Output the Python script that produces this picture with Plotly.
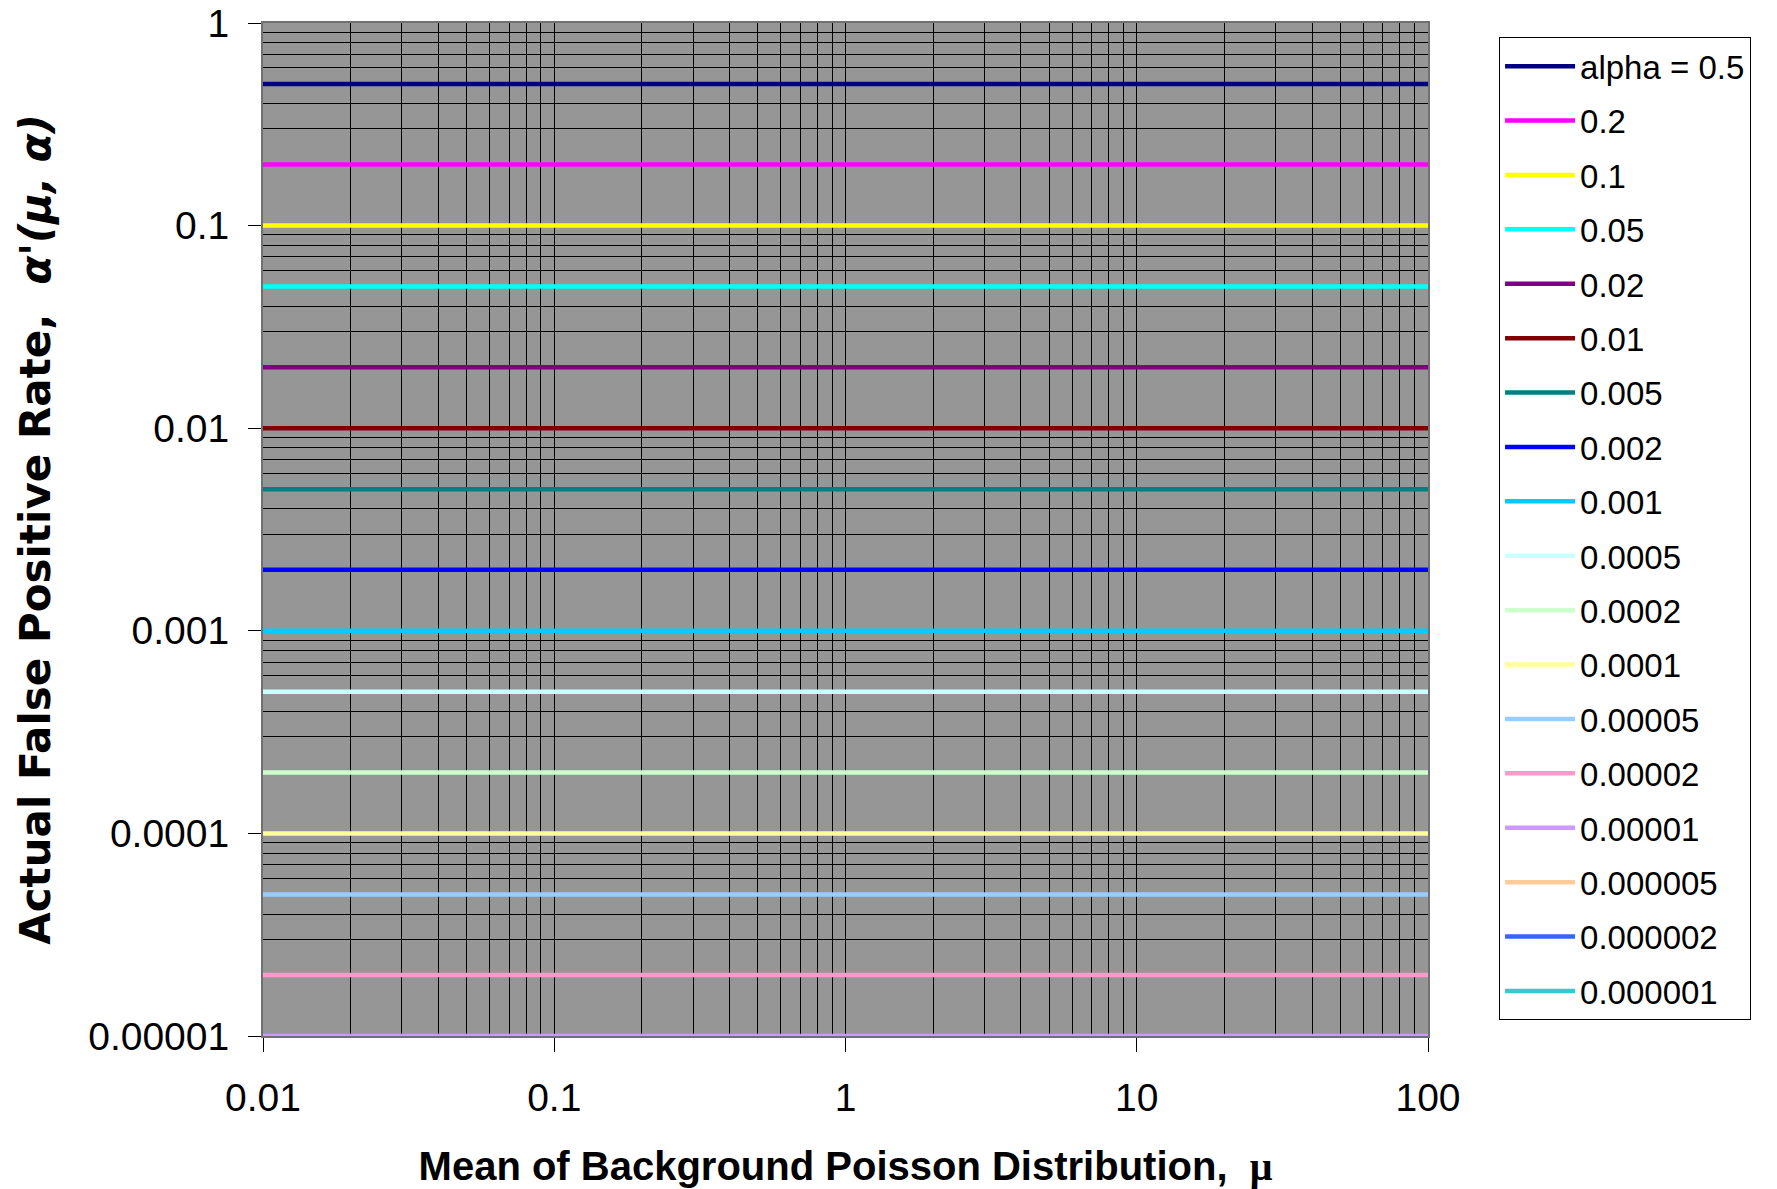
import plotly.graph_objects as go

# Data
mu_values = [0.01, 100]
alpha_values = [0.5, 0.2, 0.1, 0.05, 0.02, 0.01, 0.005, 0.002, 0.001, 0.0005,
                0.0002, 0.0001, 0.00005, 0.00002, 0.00001, 0.000005, 0.000002, 0.000001]
legend_labels = ["alpha = 0.5", "0.2", "0.1", "0.05", "0.02", "0.01", "0.005", "0.002",
                 "0.001", "0.0005", "0.0002", "0.0001", "0.00005", "0.00002", "0.00001",
                 "0.000005", "0.000002", "0.000001"]
colors = ["#000080", "#FF00FF", "#FFFF00", "#00FFFF", "#800080", "#800000", "#008080",
          "#0000FF", "#00CCFF", "#CCFFFF", "#CCFFCC", "#FFFF99", "#99CCFF", "#FF99CC",
          "#CC99FF", "#FFCC99", "#3366FF", "#33CCCC"]
x_tickvals = [0.01, 0.1, 1, 10, 100]
x_ticktext = ["0.01", "0.1", "1", "10", "100"]
y_tickvals = [1, 0.1, 0.01, 0.001, 0.0001, 0.00001]
y_ticktext = ["1", "0.1", "0.01", "0.001", "0.0001", "0.00001"]

FONT = "Liberation Sans, Arial, sans-serif"

fig = go.Figure()
for a, name, c in zip(alpha_values, legend_labels, colors):
    fig.add_trace(go.Scatter(
        x=mu_values, y=[a, a], mode="lines", name=name, legendgroup=name,
        line=dict(color=c, width=4.5), cliponaxis=False,
    ))

# page body has an 8px default margin, so the figure is offset by 8px
fig.update_layout(
    width=1769, height=1181,
    margin=dict(l=255, r=349, t=15, b=153, autoexpand=False),
    paper_bgcolor="white", plot_bgcolor="#969696",
    font=dict(family=FONT, color="black"),
    showlegend=True,
    legend=dict(
        x=1.061, y=0.986, xanchor="left", yanchor="top",
        bgcolor="white", bordercolor="black", borderwidth=1,
        font=dict(size=33, family=FONT, color="black"),
        tracegroupgap=8.5, itemwidth=70, maxheight=1.0,
    ),
)

fig.update_xaxes(
    type="log", range=[-2, 2], automargin=False,
    tickvals=x_tickvals, ticktext=x_ticktext,
    tickfont=dict(size=39, family=FONT),
    ticks="outside", ticklen=14, tickcolor="black", tickwidth=1,
    ticklabelstandoff=12, ticklabeloverflow="allow",
    showgrid=True, gridcolor="black", gridwidth=1,
    minor=dict(dtick="D1", showgrid=True, gridcolor="black", gridwidth=1, ticks=""),
    showline=True, linecolor="#707070", linewidth=2, mirror=True,
    zeroline=False,
    title=dict(text="<b>Mean of Background Poisson Distribution,  <span style='font-family:Liberation Serif'>μ</span></b>",
               font=dict(size=40, family=FONT), standoff=37),
)
fig.update_yaxes(
    type="log", range=[-5, 0], automargin=False,
    tickvals=y_tickvals, ticktext=y_ticktext,
    tickfont=dict(size=39, family=FONT),
    ticks="outside", ticklen=13, tickcolor="black", tickwidth=1,
    ticklabelstandoff=11, ticklabeloverflow="allow",
    showgrid=True, gridcolor="black", gridwidth=1,
    minor=dict(dtick="D1", showgrid=True, gridcolor="black", gridwidth=1, ticks=""),
    showline=True, linecolor="#707070", linewidth=2, mirror=True,
    zeroline=False,
    title=dict(text="<b>Actual False Positive Rate,  <i>α'(μ, α)</i></b>",
               font=dict(size=42, family="DejaVu Sans, sans-serif"), standoff=25),
)

fig.write_html("out.html")
